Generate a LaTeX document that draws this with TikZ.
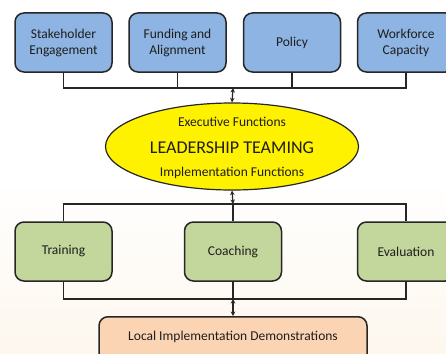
\documentclass[tikz,border=0pt]{standalone}
\usepackage{fontspec}
\setmainfont{Carlito}
\usetikzlibrary{shapes.geometric,arrows.meta}
\definecolor{bluefill}{RGB}{141,180,226}
\definecolor{greenfill}{RGB}{195,214,155}
\definecolor{orangefill}{RGB}{251,212,180}
\definecolor{bgbottom}{RGB}{253,247,238}
\definecolor{txt}{RGB}{30,30,30}
\tikzset{
  box/.style={draw=black!85, line width=1.5pt, rounded corners=9pt, minimum width=97pt, minimum height=59pt, align=center, text=txt, font=\fontsize{13.5}{16}\selectfont},
  topbox/.style={box, fill=bluefill},
  midbox/.style={box, fill=greenfill},
  conn/.style={draw=black!85, line width=1.2pt},
  dbl/.style={conn, {Stealth[length=4.5pt,width=4.5pt]}-{Stealth[length=4.5pt,width=4.5pt]}},
  lbl/.style={text=txt, font=\fontsize{13.5}{16}\selectfont}
}
\begin{document}
\begin{tikzpicture}[x=1pt,y=-1pt]
\useasboundingbox (0,0) rectangle (446,353);
\shade[top color=white, bottom color=bgbottom, middle color=white] (0,0) rectangle (446,353);
\clip (0,0) rectangle (446,353);
% top row
\node[topbox] (sh) at (63.5,42.5) {Stakeholder\\Engagement};
\node[topbox] (fa) at (177.5,42.5) {Funding and\\Alignment};
\node[topbox] (po) at (292,42.5) {Policy};
\node[topbox] (wf) at (406,42.5) {Workforce\\Capacity};
% ellipse
\node[ellipse, draw=black!85, line width=1.2pt, fill=yellow, minimum width=253pt, minimum height=87pt, inner sep=0pt] (lt) at (232,146.5) {};
\node[lbl] (ef) at (232,122) {Executive Functions};
\node[text=txt, font=\fontsize{18}{21}\selectfont] (ld) at (232,148) {LEADERSHIP TEAMING};
\node[lbl] (if) at (232,173) {Implementation Functions};
% middle row
\node[midbox] (tr) at (63.5,251.5) {Training};
\node[midbox] (co) at (233,251.5) {Coaching};
\node[midbox] (ev) at (406,251.5) {Evaluation};
% bottom
\node[draw=black!85, line width=1.5pt, rounded corners=9pt, fill=orangefill, minimum width=268pt, minimum height=60pt, anchor=north] (li) at (233,316) {};
\node[lbl] (lid) at (233,337) {Local Implementation Demonstrations};
% bus coordinates
\coordinate (b1) at (233,88);
\coordinate (b2) at (233,204);
\coordinate (b3) at (233,299);
% top bus
\draw[conn] (sh.south) |- (b1) -| (wf.south);
\draw[conn] (fa.south) -- (fa.south |- b1);
\draw[conn] (po.south) -- (po.south |- b1);
\draw[dbl] (b1) -- (lt.north);
% middle bus
\draw[dbl] (lt.south) -- (b2);
\draw[conn] (tr.north) |- (b2) -| (ev.north);
\draw[conn] (b2) -- (co.north);
% bottom bus
\draw[conn] (tr.south) |- (b3) -| (ev.south);
\draw[conn] (co.south) -- (b3);
\draw[dbl] (b3) -- (li.north);
\end{tikzpicture}
\end{document}
